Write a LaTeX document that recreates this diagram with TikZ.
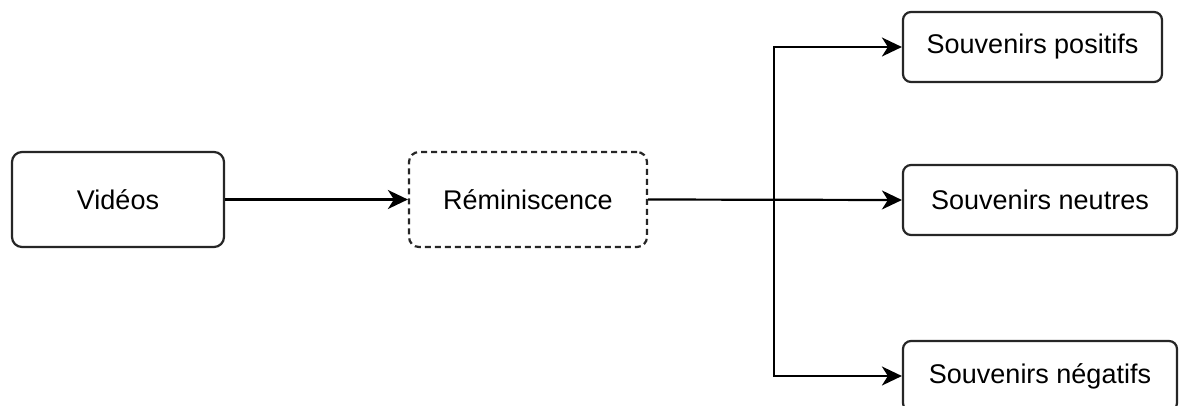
\documentclass[tikz,border=0pt]{standalone}
\usepackage{fontspec}
\setmainfont{Liberation Sans}
\usetikzlibrary{arrows.meta}
\begin{document}
\begin{tikzpicture}[x=1pt,y=-1pt,
  box/.style={draw=black!85, line width=2.2pt, rounded corners=10pt, fill=white,
    inner sep=0pt, align=center, font=\fontsize{27}{32}\selectfont},
  dashbox/.style={box, dash pattern=on 6pt off 4pt},
  arr/.style={line width=2.2pt, draw=black, -{Stealth[length=20pt, width=19pt, inset=6pt]}}
]
\useasboundingbox (0,0) rectangle (1180,405);
\node[box, minimum width=212pt, minimum height=95pt] (vid) at (118,199.5) {Vidéos};
\node[dashbox, minimum width=238pt, minimum height=95pt] (rem) at (528,199.5) {Réminiscence};
\node[box, minimum width=259pt, minimum height=70pt, rounded corners=8pt] (pos) at (1032.5,47) {Souvenirs positifs};
\node[box, minimum width=274pt, minimum height=70pt, rounded corners=8pt] (neu) at (1040,200) {Souvenirs neutres};
\node[box, minimum width=274pt, minimum height=70pt, rounded corners=8pt] (neg) at (1040,376) {Souvenirs négatifs};
\coordinate (br) at (774,200);
\draw[arr] (vid) -- (rem);
\draw[arr] (rem.east) -- (neu.west);
\draw[arr] (br) |- (pos.west);
\draw[arr] (br) |- (neg.west);
\end{tikzpicture}
\end{document}
